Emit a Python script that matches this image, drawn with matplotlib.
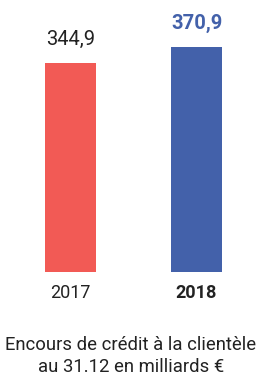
import matplotlib.pyplot as plt

years = ["2017", "2018"]
values = [344.9, 370.9]
value_labels = ["344,9", "370,9"]
bar_colors = ["#F25A55", "#4361AA"]
caption = "Encours de crédit à la clientèle\nau 31.12 en milliards €"

plt.rcParams['font.family'] = ['Roboto', 'DejaVu Sans']

fig = plt.figure(figsize=(2.62, 3.78), dpi=100)
# axes baseline sits at 272 px from the top
ax = fig.add_axes([0, (378 - 272) / 378, 1, 272 / 378])

x = [0, 1]
ax.bar(x, values, width=0.4, color=bar_colors)
ax.set_xlim(-0.56, 1.52)
ax.set_ylim(0, 449)
ax.axis("off")

text_color = "#222222"
for i, (v, lab) in enumerate(zip(values, value_labels)):
    bold = i == 1
    ax.annotate(lab, (x[i], v), xytext=(0, 13), textcoords="offset points",
                ha="center", va="baseline", fontsize=14.5,
                fontweight="bold" if bold else "normal",
                color=bar_colors[1] if bold else text_color)
    ax.annotate(years[i], (x[i], 0), xytext=(0, -19), textcoords="offset points",
                ha="center", va="baseline", fontsize=13,
                fontweight="bold" if bold else "normal", color=text_color)

lines = caption.split("\n")
fig.text(0.5, 1 - 350 / 378, lines[0], ha="center", va="baseline",
         fontsize=13.3, color=text_color)
fig.text(0.5, 1 - 372 / 378, lines[1], ha="center", va="baseline",
         fontsize=13.3, color=text_color)

fig.savefig("out.png", dpi=100)
